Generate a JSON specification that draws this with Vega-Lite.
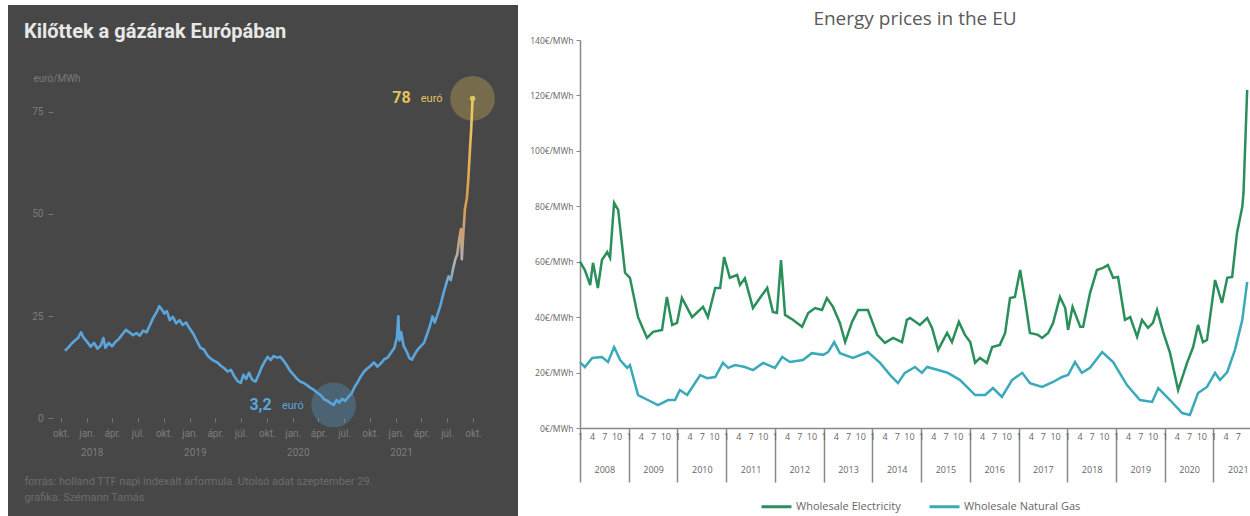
{
  "$schema": "https://vega.github.io/schema/vega-lite/v6.json",
  "background": "white",
  "padding": {"left": 8, "top": 5, "right": 0, "bottom": 0},
  "spacing": 2,
  "config": {"view": {"stroke": null}, "font": "Roboto", "axis": {"labelOverlap": false}},
  "resolve": {"scale": {"color": "independent"}, "legend": {"color": "independent"}},
  "datasets": {
    "gas": [
      {"date":"2017-10-16","value":16.5},{"date":"2017-10-28","value":17.3},{"date":"2017-11-08","value":18.2},{"date":"2017-11-20","value":19.0},
      {"date":"2017-12-01","value":19.6},{"date":"2017-12-12","value":21.0},{"date":"2017-12-20","value":19.8},{"date":"2018-01-03","value":18.6},
      {"date":"2018-01-15","value":17.5},{"date":"2018-01-27","value":18.4},{"date":"2018-02-08","value":17.0},{"date":"2018-02-20","value":17.8},
      {"date":"2018-03-01","value":19.6},{"date":"2018-03-08","value":17.2},{"date":"2018-03-20","value":18.4},{"date":"2018-04-01","value":17.6},
      {"date":"2018-04-12","value":18.6},{"date":"2018-04-25","value":19.4},{"date":"2018-05-08","value":20.6},{"date":"2018-05-20","value":21.6},
      {"date":"2018-06-01","value":21.0},{"date":"2018-06-14","value":20.3},{"date":"2018-06-26","value":20.8},{"date":"2018-07-08","value":20.2},
      {"date":"2018-07-20","value":21.4},{"date":"2018-08-01","value":21.0},{"date":"2018-08-13","value":22.8},{"date":"2018-08-25","value":24.6},
      {"date":"2018-09-06","value":26.0},{"date":"2018-09-15","value":27.4},{"date":"2018-09-24","value":26.6},{"date":"2018-10-03","value":25.6},
      {"date":"2018-10-12","value":26.2},{"date":"2018-10-22","value":24.0},{"date":"2018-11-02","value":24.8},{"date":"2018-11-14","value":23.2},
      {"date":"2018-11-26","value":24.0},{"date":"2018-12-07","value":22.8},{"date":"2018-12-19","value":23.4},{"date":"2019-01-02","value":21.8},
      {"date":"2019-01-14","value":20.6},{"date":"2019-01-26","value":18.9},{"date":"2019-02-08","value":17.2},{"date":"2019-02-20","value":16.8},
      {"date":"2019-03-04","value":15.4},{"date":"2019-03-16","value":14.6},{"date":"2019-03-28","value":14.0},{"date":"2019-04-09","value":13.6},
      {"date":"2019-04-21","value":12.8},{"date":"2019-05-03","value":12.2},{"date":"2019-05-15","value":11.4},{"date":"2019-05-27","value":11.8},
      {"date":"2019-06-08","value":10.2},{"date":"2019-06-20","value":9.0},{"date":"2019-07-01","value":8.6},{"date":"2019-07-10","value":10.6},
      {"date":"2019-07-20","value":9.6},{"date":"2019-07-30","value":11.1},{"date":"2019-08-10","value":9.4},{"date":"2019-08-22","value":8.9},
      {"date":"2019-09-02","value":10.6},{"date":"2019-09-14","value":12.6},{"date":"2019-09-25","value":14.0},{"date":"2019-10-04","value":15.0},
      {"date":"2019-10-15","value":14.2},{"date":"2019-10-25","value":15.2},{"date":"2019-11-06","value":14.8},{"date":"2019-11-18","value":15.0},
      {"date":"2019-11-28","value":14.2},{"date":"2019-12-10","value":13.0},{"date":"2019-12-22","value":11.6},{"date":"2020-01-04","value":10.6},
      {"date":"2020-01-16","value":9.6},{"date":"2020-01-28","value":8.9},{"date":"2020-02-09","value":8.6},{"date":"2020-02-21","value":8.0},
      {"date":"2020-03-04","value":7.4},{"date":"2020-03-16","value":6.9},{"date":"2020-03-28","value":6.2},{"date":"2020-04-09","value":5.6},
      {"date":"2020-04-21","value":4.6},{"date":"2020-05-03","value":4.2},{"date":"2020-05-15","value":3.6},{"date":"2020-05-25","value":3.2},
      {"date":"2020-06-04","value":4.4},{"date":"2020-06-14","value":3.8},{"date":"2020-06-24","value":4.7},{"date":"2020-07-05","value":4.2},
      {"date":"2020-07-16","value":5.2},{"date":"2020-07-27","value":6.0},{"date":"2020-08-07","value":7.6},{"date":"2020-08-18","value":8.8},
      {"date":"2020-08-29","value":10.2},{"date":"2020-09-10","value":11.4},{"date":"2020-09-22","value":12.2},{"date":"2020-10-03","value":12.8},
      {"date":"2020-10-15","value":13.6},{"date":"2020-10-27","value":12.6},{"date":"2020-11-08","value":13.4},{"date":"2020-11-20","value":14.4},
      {"date":"2020-12-02","value":14.8},{"date":"2020-12-14","value":16.0},{"date":"2020-12-26","value":17.2},{"date":"2021-01-04","value":19.8},
      {"date":"2021-01-09","value":24.9},{"date":"2021-01-13","value":19.0},{"date":"2021-01-19","value":21.0},{"date":"2021-01-28","value":17.6},
      {"date":"2021-02-08","value":16.2},{"date":"2021-02-18","value":14.6},{"date":"2021-02-26","value":14.3},{"date":"2021-03-08","value":15.6},
      {"date":"2021-03-19","value":16.8},{"date":"2021-03-30","value":17.6},{"date":"2021-04-10","value":18.4},{"date":"2021-04-21","value":20.6},
      {"date":"2021-05-02","value":22.8},{"date":"2021-05-10","value":24.9},{"date":"2021-05-18","value":23.4},{"date":"2021-05-28","value":25.4},
      {"date":"2021-06-08","value":27.8},{"date":"2021-06-18","value":30.6},{"date":"2021-06-28","value":33.0},{"date":"2021-07-06","value":34.7},
      {"date":"2021-07-14","value":33.8},{"date":"2021-07-22","value":36.6},{"date":"2021-07-30","value":38.9},{"date":"2021-08-06","value":40.2},
      {"date":"2021-08-13","value":44.0},{"date":"2021-08-19","value":46.3},{"date":"2021-08-22","value":38.9},{"date":"2021-08-27","value":45.0},
      {"date":"2021-09-02","value":51.2},{"date":"2021-09-09","value":54.0},{"date":"2021-09-14","value":58.6},{"date":"2021-09-20","value":66.0},
      {"date":"2021-09-24","value":70.5},{"date":"2021-09-29","value":78.3}
    ],
    "annot": [
      {"date":"2021-09-29","value":78.3,"kind":"max","big":"78","small":"euró"},
      {"date":"2020-05-25","value":3.2,"kind":"min","big":"3,2","small":"euró"}
    ],
    "energy": [
      {"series":"Wholesale Electricity","m":0,"v":60},{"series":"Wholesale Electricity","m":1.2,"v":57},{"series":"Wholesale Electricity","m":2.5,"v":51.6},
      {"series":"Wholesale Electricity","m":3.2,"v":59.6},{"series":"Wholesale Electricity","m":4.4,"v":50.5},{"series":"Wholesale Electricity","m":5.4,"v":60.6},
      {"series":"Wholesale Electricity","m":6.7,"v":63.5},{"series":"Wholesale Electricity","m":7.4,"v":61.4},{"series":"Wholesale Electricity","m":8.4,"v":81.2},
      {"series":"Wholesale Electricity","m":9.4,"v":78.7},{"series":"Wholesale Electricity","m":11.1,"v":56},{"series":"Wholesale Electricity","m":12.3,"v":54.2},
      {"series":"Wholesale Electricity","m":14.3,"v":40},{"series":"Wholesale Electricity","m":16.5,"v":32.5},{"series":"Wholesale Electricity","m":18,"v":34.7},
      {"series":"Wholesale Electricity","m":20.2,"v":35.4},{"series":"Wholesale Electricity","m":21.4,"v":47.3},{"series":"Wholesale Electricity","m":22.7,"v":37.2},
      {"series":"Wholesale Electricity","m":23.9,"v":37.9},{"series":"Wholesale Electricity","m":25.1,"v":46.9},{"series":"Wholesale Electricity","m":27.6,"v":40},
      {"series":"Wholesale Electricity","m":30.3,"v":43.7},{"series":"Wholesale Electricity","m":31.5,"v":40},{"series":"Wholesale Electricity","m":33.3,"v":50.5},
      {"series":"Wholesale Electricity","m":34.5,"v":50.5},{"series":"Wholesale Electricity","m":35.5,"v":61.7},{"series":"Wholesale Electricity","m":36.9,"v":54.2},
      {"series":"Wholesale Electricity","m":38.7,"v":55.2},{"series":"Wholesale Electricity","m":39.4,"v":51.6},{"series":"Wholesale Electricity","m":40.6,"v":54},
      {"series":"Wholesale Electricity","m":42.6,"v":43.3},{"series":"Wholesale Electricity","m":44.3,"v":46.9},{"series":"Wholesale Electricity","m":46.1,"v":50.5},
      {"series":"Wholesale Electricity","m":47.5,"v":41.9},{"series":"Wholesale Electricity","m":48.5,"v":41.5},{"series":"Wholesale Electricity","m":49.5,"v":60.6},
      {"series":"Wholesale Electricity","m":50.5,"v":40.8},{"series":"Wholesale Electricity","m":52.5,"v":39},{"series":"Wholesale Electricity","m":54.7,"v":36.5},
      {"series":"Wholesale Electricity","m":56.2,"v":41.5},{"series":"Wholesale Electricity","m":57.9,"v":43.3},{"series":"Wholesale Electricity","m":59.6,"v":42.6},
      {"series":"Wholesale Electricity","m":60.8,"v":46.9},{"series":"Wholesale Electricity","m":62.3,"v":43.7},{"series":"Wholesale Electricity","m":64,"v":37.9},
      {"series":"Wholesale Electricity","m":65.3,"v":31},{"series":"Wholesale Electricity","m":67,"v":38.3},{"series":"Wholesale Electricity","m":68.5,"v":42.6},
      {"series":"Wholesale Electricity","m":70.9,"v":42.6},{"series":"Wholesale Electricity","m":73.2,"v":33.6},{"series":"Wholesale Electricity","m":75.1,"v":30.7},
      {"series":"Wholesale Electricity","m":77.1,"v":32.5},{"series":"Wholesale Electricity","m":79.3,"v":31},{"series":"Wholesale Electricity","m":80.5,"v":39},
      {"series":"Wholesale Electricity","m":81.3,"v":39.7},{"series":"Wholesale Electricity","m":83.7,"v":37.2},{"series":"Wholesale Electricity","m":85.5,"v":39.7},
      {"series":"Wholesale Electricity","m":86.7,"v":36.1},{"series":"Wholesale Electricity","m":88.2,"v":28.2},{"series":"Wholesale Electricity","m":90.4,"v":34.3},
      {"series":"Wholesale Electricity","m":91.6,"v":31},{"series":"Wholesale Electricity","m":93.3,"v":38.3},{"series":"Wholesale Electricity","m":94.8,"v":33.6},
      {"series":"Wholesale Electricity","m":96.1,"v":31},{"series":"Wholesale Electricity","m":97.3,"v":23.5},{"series":"Wholesale Electricity","m":98.5,"v":25.3},
      {"series":"Wholesale Electricity","m":100.2,"v":23.5},{"series":"Wholesale Electricity","m":101.5,"v":29.2},{"series":"Wholesale Electricity","m":103.4,"v":30},
      {"series":"Wholesale Electricity","m":104.7,"v":34.3},{"series":"Wholesale Electricity","m":105.9,"v":46.9},{"series":"Wholesale Electricity","m":107.1,"v":47.3},
      {"series":"Wholesale Electricity","m":108.4,"v":57},{"series":"Wholesale Electricity","m":109.6,"v":46.2},{"series":"Wholesale Electricity","m":110.8,"v":34.3},
      {"series":"Wholesale Electricity","m":112.8,"v":33.6},{"series":"Wholesale Electricity","m":113.8,"v":32.5},{"series":"Wholesale Electricity","m":115.3,"v":34.3},
      {"series":"Wholesale Electricity","m":116.5,"v":37.9},{"series":"Wholesale Electricity","m":118.2,"v":47.3},{"series":"Wholesale Electricity","m":119.5,"v":43.3},
      {"series":"Wholesale Electricity","m":120.2,"v":35.4},{"series":"Wholesale Electricity","m":121.3,"v":43.7},{"series":"Wholesale Electricity","m":123.2,"v":36.5},
      {"series":"Wholesale Electricity","m":123.9,"v":36.5},{"series":"Wholesale Electricity","m":125.6,"v":48.7},{"series":"Wholesale Electricity","m":127.3,"v":57},
      {"series":"Wholesale Electricity","m":128.8,"v":57.8},{"series":"Wholesale Electricity","m":130,"v":58.8},{"series":"Wholesale Electricity","m":131.3,"v":54.2},
      {"series":"Wholesale Electricity","m":132.5,"v":54.5},{"series":"Wholesale Electricity","m":134.2,"v":39},{"series":"Wholesale Electricity","m":135.5,"v":40},
      {"series":"Wholesale Electricity","m":137.2,"v":32.9},{"series":"Wholesale Electricity","m":138.4,"v":39},{"series":"Wholesale Electricity","m":139.9,"v":36.1},
      {"series":"Wholesale Electricity","m":141.1,"v":37.9},{"series":"Wholesale Electricity","m":142.1,"v":42.6},{"series":"Wholesale Electricity","m":143.6,"v":34.7},
      {"series":"Wholesale Electricity","m":145.3,"v":27.1},{"series":"Wholesale Electricity","m":147.3,"v":13.7},{"series":"Wholesale Electricity","m":149.5,"v":23.5},
      {"series":"Wholesale Electricity","m":151,"v":29.2},{"series":"Wholesale Electricity","m":152.2,"v":37.2},{"series":"Wholesale Electricity","m":153.4,"v":31},
      {"series":"Wholesale Electricity","m":154.4,"v":31.8},{"series":"Wholesale Electricity","m":156.4,"v":53.4},{"series":"Wholesale Electricity","m":158.1,"v":45.1},
      {"series":"Wholesale Electricity","m":159.4,"v":54.2},{"series":"Wholesale Electricity","m":160.6,"v":54.5},{"series":"Wholesale Electricity","m":161.8,"v":70.4},
      {"series":"Wholesale Electricity","m":163.1,"v":79.8},{"series":"Wholesale Electricity","m":163.4,"v":84.8},{"series":"Wholesale Electricity","m":164.3,"v":122},
      {"series":"Wholesale Natural Gas","m":0,"v":23.8},{"series":"Wholesale Natural Gas","m":1.2,"v":22},{"series":"Wholesale Natural Gas","m":3,"v":25.3},
      {"series":"Wholesale Natural Gas","m":5.4,"v":25.6},{"series":"Wholesale Natural Gas","m":6.9,"v":23.8},{"series":"Wholesale Natural Gas","m":8.4,"v":29.2},
      {"series":"Wholesale Natural Gas","m":9.9,"v":24.5},{"series":"Wholesale Natural Gas","m":11.6,"v":21.7},{"series":"Wholesale Natural Gas","m":12.3,"v":22.7},
      {"series":"Wholesale Natural Gas","m":14.3,"v":11.9},{"series":"Wholesale Natural Gas","m":16.7,"v":10.1},{"series":"Wholesale Natural Gas","m":19.2,"v":8.3},
      {"series":"Wholesale Natural Gas","m":21.7,"v":10.1},{"series":"Wholesale Natural Gas","m":23.4,"v":10.1},{"series":"Wholesale Natural Gas","m":24.6,"v":13.7},
      {"series":"Wholesale Natural Gas","m":26.4,"v":11.9},{"series":"Wholesale Natural Gas","m":29.6,"v":19.1},{"series":"Wholesale Natural Gas","m":31.3,"v":18},
      {"series":"Wholesale Natural Gas","m":33.3,"v":18.4},{"series":"Wholesale Natural Gas","m":35.2,"v":23.5},{"series":"Wholesale Natural Gas","m":36.5,"v":21.7},
      {"series":"Wholesale Natural Gas","m":38.2,"v":22.7},{"series":"Wholesale Natural Gas","m":40.6,"v":22},{"series":"Wholesale Natural Gas","m":42.6,"v":20.9},
      {"series":"Wholesale Natural Gas","m":45.1,"v":23.5},{"series":"Wholesale Natural Gas","m":48,"v":21.7},{"series":"Wholesale Natural Gas","m":49.8,"v":25.6},
      {"series":"Wholesale Natural Gas","m":51.7,"v":23.8},{"series":"Wholesale Natural Gas","m":54.9,"v":24.5},{"series":"Wholesale Natural Gas","m":57.1,"v":27},
      {"series":"Wholesale Natural Gas","m":59.9,"v":26.4},{"series":"Wholesale Natural Gas","m":61.1,"v":27.4},{"series":"Wholesale Natural Gas","m":62.6,"v":31},
      {"series":"Wholesale Natural Gas","m":64,"v":27},{"series":"Wholesale Natural Gas","m":67.2,"v":25.3},{"series":"Wholesale Natural Gas","m":70.9,"v":27.4},
      {"series":"Wholesale Natural Gas","m":73.9,"v":23.5},{"series":"Wholesale Natural Gas","m":76.4,"v":19.1},{"series":"Wholesale Natural Gas","m":78.3,"v":16.2},
      {"series":"Wholesale Natural Gas","m":80,"v":19.9},{"series":"Wholesale Natural Gas","m":82.5,"v":22},{"series":"Wholesale Natural Gas","m":84.2,"v":19.9},
      {"series":"Wholesale Natural Gas","m":85.5,"v":22},{"series":"Wholesale Natural Gas","m":88.2,"v":20.9},{"series":"Wholesale Natural Gas","m":90.6,"v":19.9},
      {"series":"Wholesale Natural Gas","m":93.6,"v":17.3},{"series":"Wholesale Natural Gas","m":97.3,"v":11.9},{"series":"Wholesale Natural Gas","m":99.8,"v":11.9},
      {"series":"Wholesale Natural Gas","m":101.7,"v":14.4},{"series":"Wholesale Natural Gas","m":103.9,"v":11.2},{"series":"Wholesale Natural Gas","m":106.4,"v":17.3},
      {"series":"Wholesale Natural Gas","m":108.9,"v":19.9},{"series":"Wholesale Natural Gas","m":110.8,"v":16.2},{"series":"Wholesale Natural Gas","m":113.8,"v":14.8},
      {"series":"Wholesale Natural Gas","m":116.5,"v":16.6},{"series":"Wholesale Natural Gas","m":118.7,"v":18.4},{"series":"Wholesale Natural Gas","m":120.2,"v":19.1},
      {"series":"Wholesale Natural Gas","m":121.9,"v":23.8},{"series":"Wholesale Natural Gas","m":123.6,"v":19.9},{"series":"Wholesale Natural Gas","m":125.6,"v":21.7},
      {"series":"Wholesale Natural Gas","m":128.6,"v":27.4},{"series":"Wholesale Natural Gas","m":131.3,"v":23.8},{"series":"Wholesale Natural Gas","m":134.7,"v":15.5},
      {"series":"Wholesale Natural Gas","m":137.9,"v":10.1},{"series":"Wholesale Natural Gas","m":140.9,"v":9.4},{"series":"Wholesale Natural Gas","m":142.4,"v":14.4},
      {"series":"Wholesale Natural Gas","m":145.3,"v":10.1},{"series":"Wholesale Natural Gas","m":148.3,"v":5.4},{"series":"Wholesale Natural Gas","m":150.2,"v":4.7},
      {"series":"Wholesale Natural Gas","m":152.2,"v":12.6},{"series":"Wholesale Natural Gas","m":154.4,"v":14.8},{"series":"Wholesale Natural Gas","m":156.4,"v":19.9},
      {"series":"Wholesale Natural Gas","m":157.6,"v":17.3},{"series":"Wholesale Natural Gas","m":159.4,"v":20.2},{"series":"Wholesale Natural Gas","m":161.3,"v":28.2},
      {"series":"Wholesale Natural Gas","m":163.1,"v":39},{"series":"Wholesale Natural Gas","m":164.3,"v":52.7}
    ]
  },
  "hconcat": [
    {
      "width": 510,
      "height": 511,
      "view": {"fill": "#474747", "stroke": null},
      "title": {"text": "Kilőttek a gázárak Európában", "anchor": "start", "frame": "group", "offset": -37, "dx": 16, "fontSize": 20, "fontWeight": "bold", "font": "Roboto", "color": "#e8e8e8"},
      "resolve": {"axis": {"x": "independent"}},
      "layer": [
        {
          "data": {"name": "gas"},
          "mark": {"type": "line", "strokeWidth": 2.6, "strokeJoin": "round",
            "stroke": {"gradient": "linear", "x1": 0, "y1": 1, "x2": 0, "y2": 0,
              "stops": [
                {"offset": 0, "color": "#5aa5dc"},
                {"offset": 0.38, "color": "#5aa5dc"},
                {"offset": 0.46, "color": "#a8b4bc"},
                {"offset": 0.55, "color": "#c9a07a"},
                {"offset": 0.68, "color": "#dc9e4c"},
                {"offset": 1, "color": "#efd06a"}
              ]}},
          "encoding": {
            "x": {"field": "date", "type": "temporal",
              "scale": {"type": "utc", "domain": [{"year": 2017, "month": 3, "date": 28, "utc": true}, {"year": 2022, "month": 3, "date": 9, "utc": true}]},
              "axis": {
                "orient": "bottom", "offset": -98,
                "values": [
                  {"year": 2017, "month": 10, "date": 1, "utc": true},
                  {"year": 2018, "month": 1, "date": 1, "utc": true},{"year": 2018, "month": 4, "date": 1, "utc": true},{"year": 2018, "month": 7, "date": 1, "utc": true},{"year": 2018, "month": 10, "date": 1, "utc": true},
                  {"year": 2019, "month": 1, "date": 1, "utc": true},{"year": 2019, "month": 4, "date": 1, "utc": true},{"year": 2019, "month": 7, "date": 1, "utc": true},{"year": 2019, "month": 10, "date": 1, "utc": true},
                  {"year": 2020, "month": 1, "date": 1, "utc": true},{"year": 2020, "month": 4, "date": 1, "utc": true},{"year": 2020, "month": 7, "date": 1, "utc": true},{"year": 2020, "month": 10, "date": 1, "utc": true},
                  {"year": 2021, "month": 1, "date": 1, "utc": true},{"year": 2021, "month": 4, "date": 1, "utc": true},{"year": 2021, "month": 7, "date": 1, "utc": true},{"year": 2021, "month": 10, "date": 1, "utc": true}
                ],
                "domain": false, "grid": false, "tickSize": 4, "tickColor": "#777777",
                "labelColor": "#7d7d7d", "labelFontSize": 10, "labelPadding": 6,
                "labelOverlap": false, "labelFlush": false, "labelBound": false, "labelSeparation": 0,
                "labelExpr": "utcmonth(datum.value) == 9 ? 'okt.' : utcmonth(datum.value) == 0 ? 'jan.' : utcmonth(datum.value) == 3 ? 'ápr.' : 'júl.'",
                "title": ["forrás: holland TTF napi indexált árformula. Utolsó adat szeptember 29.", "grafika: Szémann Tamás"],
                "titleColor": "#6c6c6c", "titleFontSize": 11, "titleFontWeight": "normal", "titleAnchor": "start", "titleAlign": "left",
                "titleBaseline": "top", "titleX": 16, "titleY": 57, "titleLineHeight": 16
              }},
            "y": {"field": "value", "type": "quantitative",
              "scale": {"domain": [-24, 101.2], "nice": false, "zero": false},
              "axis": {
                "orient": "left", "offset": -45, "values": [0, 25, 50, 75], "domain": false, "grid": false,
                "tickSize": 5, "tickColor": "#777777", "labelColor": "#7d7d7d", "labelFontSize": 10, "labelPadding": 5,
                "title": "euró/MWh", "titleAngle": 0, "titleAlign": "left", "titleBaseline": "middle", "titleX": -20, "titleY": 73,
                "titleColor": "#7a7a7a", "titleFontSize": 10, "titleFontWeight": "normal"
              }}
          }
        },
        {
          "data": {"name": "annot"},
          "mark": {"type": "point", "opacity": 0},
          "encoding": {
            "x": {"field": "date", "type": "temporal",
              "axis": {
                "orient": "bottom", "offset": -98,
                "values": [
                  {"year": 2018, "month": 1, "date": 1, "utc": true},{"year": 2019, "month": 1, "date": 1, "utc": true},
                  {"year": 2020, "month": 1, "date": 1, "utc": true},{"year": 2021, "month": 1, "date": 1, "utc": true}
                ],
                "domain": false, "grid": false, "ticks": false,
                "labelColor": "#7d7d7d", "labelFontSize": 10, "labelPadding": 29, "labelOffset": 5,
                "labelOverlap": false, "labelFlush": false,
                "labelExpr": "utcFormat(datum.value, '%Y')",
                "title": null
              }},
            "y": {"field": "value", "type": "quantitative"}
          }
        },
        {
          "data": {"name": "annot"},
          "mark": {"type": "point", "filled": true, "size": 2000, "opacity": 0.3},
          "encoding": {
            "x": {"field": "date", "type": "temporal", "axis": null},
            "y": {"field": "value", "type": "quantitative"},
            "color": {"field": "kind", "type": "nominal", "scale": {"domain": ["max", "min"], "range": ["#e3c35a", "#5aa5dc"]}, "legend": null}
          }
        },
        {
          "data": {"name": "annot"},
          "transform": [{"filter": "datum.kind == 'max'"}],
          "mark": {"type": "point", "filled": true, "size": 30, "opacity": 1},
          "encoding": {
            "x": {"field": "date", "type": "temporal", "axis": null},
            "y": {"field": "value", "type": "quantitative"},
            "color": {"field": "kind", "type": "nominal", "legend": null}
          }
        },
        {
          "data": {"name": "annot"},
          "mark": {"type": "text", "align": "right", "baseline": "middle", "dx": -62, "fontSize": 16, "fontWeight": "bold", "font": "Roboto"},
          "encoding": {
            "x": {"field": "date", "type": "temporal", "axis": null},
            "y": {"field": "value", "type": "quantitative"},
            "text": {"field": "big"},
            "color": {"field": "kind", "type": "nominal", "legend": null}
          }
        },
        {
          "data": {"name": "annot"},
          "mark": {"type": "text", "align": "right", "baseline": "middle", "dx": -30, "dy": 1, "fontSize": 11, "font": "Roboto"},
          "encoding": {
            "x": {"field": "date", "type": "temporal", "axis": null},
            "y": {"field": "value", "type": "quantitative"},
            "text": {"field": "small"},
            "color": {"field": "kind", "type": "nominal", "legend": null}
          }
        }
      ]
    },
    {
      "width": 670,
      "height": 423,
      "title": {"text": "Energy prices in the EU", "fontSize": 19, "font": "Open Sans", "fontWeight": "normal", "color": "#5a5a5a", "anchor": "middle", "offset": -24},
      "data": {"name": "energy"},
      "mark": {"type": "line", "strokeWidth": 2.5},
      "encoding": {
        "x": {"field": "m", "type": "quantitative",
          "scale": {"domain": [0, 165], "nice": false, "zero": false},
          "axis": {
            "values": [0,3,6,9,12,15,18,21,24,27,30,33,36,39,42,45,48,51,54,57,60,63,66,69,72,75,78,81,84,87,90,93,96,99,102,105,108,111,114,117,120,123,126,129,132,135,138,141,144,147,150,153,156,159,162],
            "domain": true, "domainColor": "#888888", "domainWidth": 1.5, "grid": false,
            "tickSize": 54, "tickColor": "#888888", "tickWidth": 1.5,
            "tickOpacity": {"condition": {"test": "datum.value % 12 === 0", "value": 1}, "value": 0},
            "labelPadding": -50, "labelFontSize": 9, "labelColor": "#666666", "labelFont": "Open Sans",
            "labelLineHeight": 33, "labelOverlap": false, "labelFlush": false, "labelBaseline": "top",
            "labelExpr": "datum.value % 12 === 6 ? [toString(datum.value % 12 + 1), toString(2008 + floor(datum.value / 12))] : toString(datum.value % 12 + 1)",
            "title": null
          }},
        "y": {"field": "v", "type": "quantitative",
          "scale": {"domain": [0, 140], "range": [423, 35], "nice": false},
          "axis": {
            "values": [0, 20, 40, 60, 80, 100, 120, 140],
            "labelExpr": "datum.value + '€/MWh'",
            "domain": true, "domainColor": "#888888", "domainWidth": 1.5, "tickColor": "#888888", "tickSize": 4,
            "labelFontSize": 8.5, "labelColor": "#666666", "labelFont": "Open Sans", "labelPadding": 3,
            "grid": false, "title": null, "minExtent": 60, "maxExtent": 60
          }},
        "color": {"field": "series", "type": "nominal",
          "scale": {"domain": ["Wholesale Electricity", "Wholesale Natural Gas"], "range": ["#2a8f5a", "#3aa9b9"]},
          "legend": {
            "orient": "none", "legendX": 180, "legendY": 485, "direction": "horizontal", "title": null,
            "symbolType": "stroke", "symbolStrokeWidth": 3, "symbolSize": 900,
            "labelFontSize": 11, "labelColor": "#666666", "labelFont": "Open Sans", "columnPadding": 22, "labelOffset": 3
          }}
      }
    }
  ]
}
